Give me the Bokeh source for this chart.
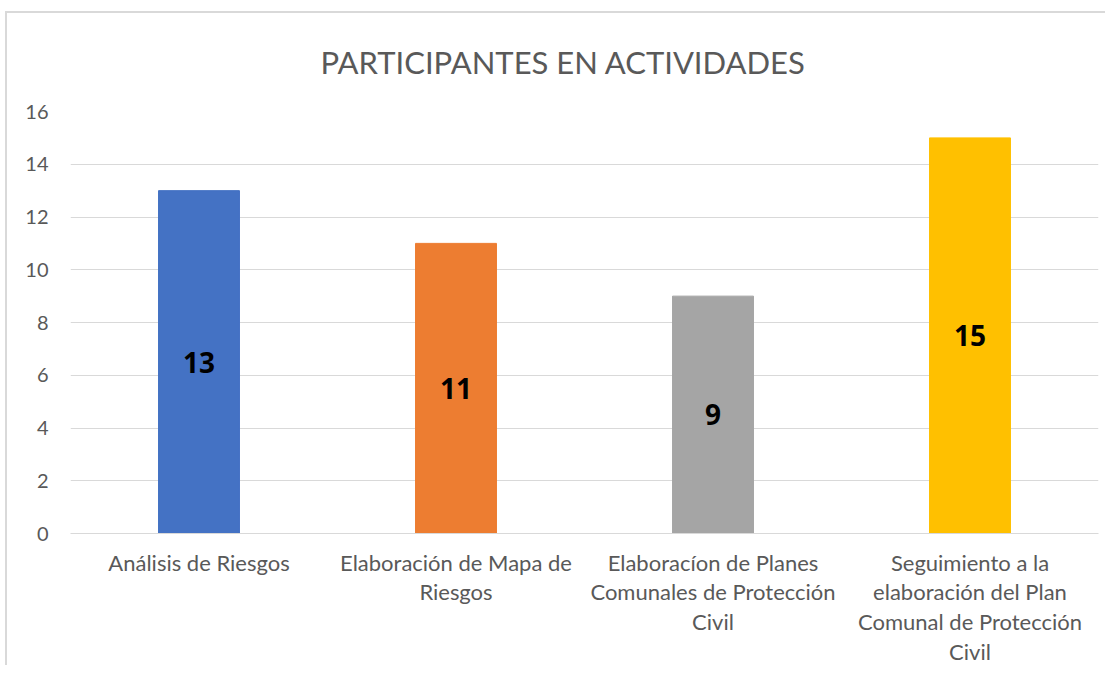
from bokeh.plotting import figure
from bokeh.models import ColumnDataSource, Range1d, FactorRange, LabelSet
from bokeh.core.properties import value
from bokeh.embed import file_html
from bokeh.resources import INLINE

categories = [
    "Análisis de Riesgos",
    "Elaboración de Mapa de\nRiesgos",
    "Elaboracíon de Planes\nComunales de Protección\nCivil",
    "Seguimiento a la\nelaboración del Plan\nComunal de Protección\nCivil",
]
values = [13, 11, 9, 15]
colors = ["#4472C4", "#ED7D31", "#A5A5A5", "#FFC000"]
title_text = "PARTICIPANTES EN ACTIVIDADES"

FONT = "Lato"
GRAY = "#595959"

src = ColumnDataSource(dict(
    cat=categories,
    val=values,
    half=[v / 2 for v in values],
    lab=[str(v) for v in values],
    color=colors,
))

W, H = 1100, 654
p = figure(
    width=W, height=H,
    x_range=FactorRange(factors=categories, range_padding=0),
    y_range=Range1d(0, 16),
    output_backend="svg", toolbar_location=None,
    min_border_left=63, min_border_right=9, min_border_top=98, min_border_bottom=130,
)
p.styles = {"border-left": "2px solid #d9d9d9", "border-top": "2px solid #d9d9d9",
            "margin-left": "5px", "margin-top": "11px"}

p.vbar(x="cat", top="val", width=0.315, color="color", source=src)
p.add_layout(LabelSet(x="cat", y="half", text="lab", source=src,
                      text_align="center", text_baseline="middle",
                      text_font=value("Noto Sans"), text_font_size="28px",
                      text_font_style="bold", text_color="#000000"))

p.title.text = title_text
p.title.align = "left"
p.title.vertical_align = "top"
p.title.text_font = FONT
p.title.text_font_size = "31px"
p.title.text_font_style = "normal"
p.title.text_color = GRAY
p.title.offset = 250
p.title.standoff = 57

p.outline_line_color = None
p.xgrid.grid_line_color = None
p.ygrid.grid_line_color = "#d9d9d9"
p.ygrid.grid_line_width = 1

p.yaxis.ticker = [0, 2, 4, 6, 8, 10, 12, 14, 16]
p.yaxis.axis_line_color = None
p.yaxis.major_tick_line_color = None
p.yaxis.minor_tick_line_color = None
p.yaxis.major_label_text_font = FONT
p.yaxis.major_label_text_font_size = "20px"
p.yaxis.major_label_text_color = GRAY
p.yaxis.major_label_standoff = 16

p.xaxis.axis_line_color = "#d9d9d9"
p.xaxis.major_tick_line_color = None
p.xaxis.minor_tick_line_color = None
p.xaxis.major_label_text_font = FONT
p.xaxis.major_label_text_font_size = "22px"
p.xaxis.major_label_text_color = GRAY
p.xaxis.major_label_text_line_height = 1.1
p.xaxis.major_label_standoff = 9
p.xaxis.major_label_orientation = "horizontal"

open("out.html", "w").write(file_html(p, INLINE))
